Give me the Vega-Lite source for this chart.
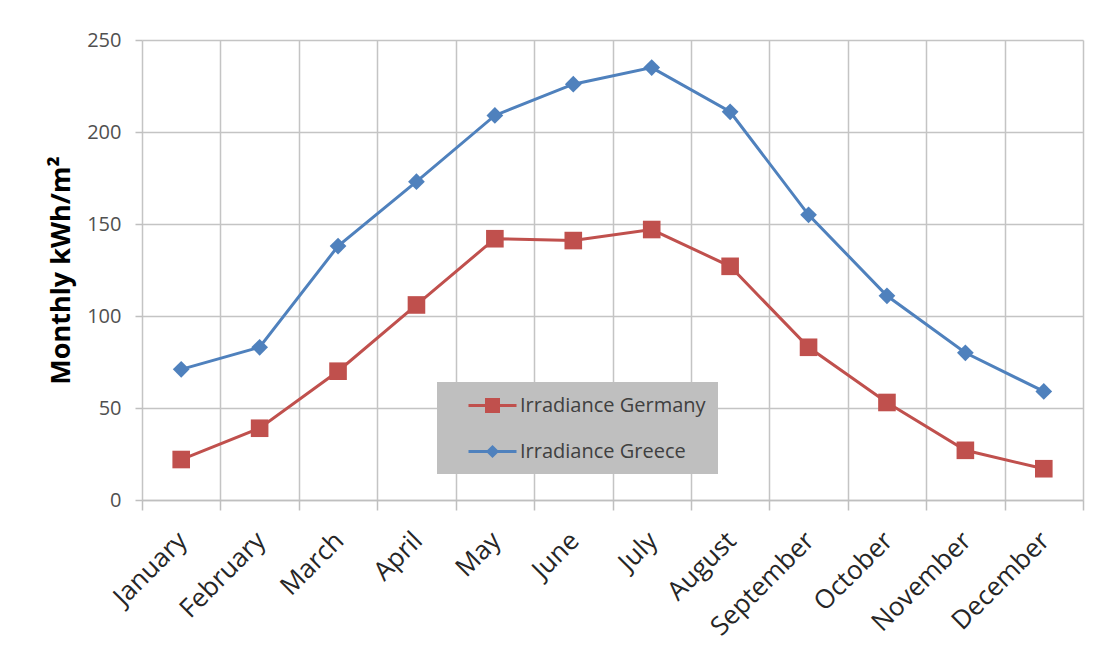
{
  "$schema": "https://vega.github.io/schema/vega-lite/v6.json",
  "width": 941,
  "height": 460,
  "autosize": "none",
  "padding": {"left": 142, "top": 40, "right": 29, "bottom": 164},
  "background": "white",
  "config": {"view": {"stroke": null}, "font": "Open Sans"},
  "data": {
    "values": [
      {"month": "January", "series": "Irradiance Germany", "value": 22},
      {"month": "February", "series": "Irradiance Germany", "value": 39},
      {"month": "March", "series": "Irradiance Germany", "value": 70},
      {"month": "April", "series": "Irradiance Germany", "value": 106},
      {"month": "May", "series": "Irradiance Germany", "value": 142},
      {"month": "June", "series": "Irradiance Germany", "value": 141},
      {"month": "July", "series": "Irradiance Germany", "value": 147},
      {"month": "August", "series": "Irradiance Germany", "value": 127},
      {"month": "September", "series": "Irradiance Germany", "value": 83},
      {"month": "October", "series": "Irradiance Germany", "value": 53},
      {"month": "November", "series": "Irradiance Germany", "value": 27},
      {"month": "December", "series": "Irradiance Germany", "value": 17},
      {"month": "January", "series": "Irradiance Greece", "value": 71},
      {"month": "February", "series": "Irradiance Greece", "value": 83},
      {"month": "March", "series": "Irradiance Greece", "value": 138},
      {"month": "April", "series": "Irradiance Greece", "value": 173},
      {"month": "May", "series": "Irradiance Greece", "value": 209},
      {"month": "June", "series": "Irradiance Greece", "value": 226},
      {"month": "July", "series": "Irradiance Greece", "value": 235},
      {"month": "August", "series": "Irradiance Greece", "value": 211},
      {"month": "September", "series": "Irradiance Greece", "value": 155},
      {"month": "October", "series": "Irradiance Greece", "value": 111},
      {"month": "November", "series": "Irradiance Greece", "value": 80},
      {"month": "December", "series": "Irradiance Greece", "value": 59}
    ]
  },
  "encoding": {
    "x": {
      "field": "month",
      "type": "ordinal",
      "sort": ["January", "February", "March", "April", "May", "June", "July", "August", "September", "October", "November", "December"],
      "scale": {"paddingInner": 0, "paddingOuter": 0},
      "axis": {
        "title": null,
        "tickBand": "extent",
        "grid": true,
        "gridColor": "#C4C4C4",
        "gridWidth": 1.5,
        "domainColor": "#BFBFBF",
        "domainWidth": 1.5,
        "tickColor": "#BFBFBF",
        "tickWidth": 1.5,
        "tickSize": 10,
        "labelAngle": -45,
        "labelAlign": "right",
        "labelBaseline": "top",
        "labelFontSize": 26,
        "labelColor": "#262626",
        "labelPadding": 17,
        "labelOffset": -8
      }
    },
    "y": {
      "field": "value",
      "type": "quantitative",
      "scale": {"domain": [0, 250]},
      "axis": {
        "title": "Monthly kWh/m²",
        "titleFontSize": 27,
        "titleFontWeight": "bold",
        "titleColor": "#000000",
        "titlePadding": 11,
        "values": [0, 50, 100, 150, 200, 250],
        "grid": true,
        "gridColor": "#C4C4C4",
        "gridWidth": 1.5,
        "domain": false,
        "tickColor": "#BFBFBF",
        "tickWidth": 1.5,
        "tickSize": 7,
        "labelFontSize": 20,
        "labelColor": "#505050",
        "labelPadding": 14
      }
    },
    "color": {
      "field": "series",
      "type": "nominal",
      "scale": {"domain": ["Irradiance Germany", "Irradiance Greece"], "range": ["#C0504D", "#4F81BD"]},
      "legend": {
        "title": null,
        "orient": "none",
        "legendX": 295,
        "legendY": 342,
        "fillColor": "#BFBFBF",
        "padding": 12,
        "symbolSize": 400,
        "symbolOffset": 32,
        "labelFontSize": 20,
        "labelColor": "#404040",
        "labelOffset": 16,
        "labelLimit": 400,
        "rowPadding": 22,
        "encode": {
          "symbols": {
            "update": {
              "shape": {"signal": "datum.value === 'Irradiance Germany' ? 'M-2.4,0H2.4M-0.6,-0.6H0.6V0.6H-0.6Z' : 'M-2.4,0H2.4M0,-0.45L0.45,0L0,0.45L-0.45,0Z'"},
              "fill": {"scale": "color", "field": "value"},
              "stroke": {"scale": "color", "field": "value"},
              "strokeWidth": {"value": 3},
              "opacity": {"value": 1},
              "fillOpacity": {"value": 1}
            }
          }
        }
      }
    }
  },
  "layer": [
    {"mark": {"type": "line", "strokeWidth": 3}},
    {
      "transform": [{"filter": "datum.series === 'Irradiance Germany'"}],
      "mark": {"type": "point", "shape": "square", "filled": true, "size": 310, "opacity": 1}
    },
    {
      "transform": [{"filter": "datum.series === 'Irradiance Greece'"}],
      "mark": {"type": "point", "shape": "diamond", "filled": true, "size": 280, "opacity": 1}
    }
  ]
}
